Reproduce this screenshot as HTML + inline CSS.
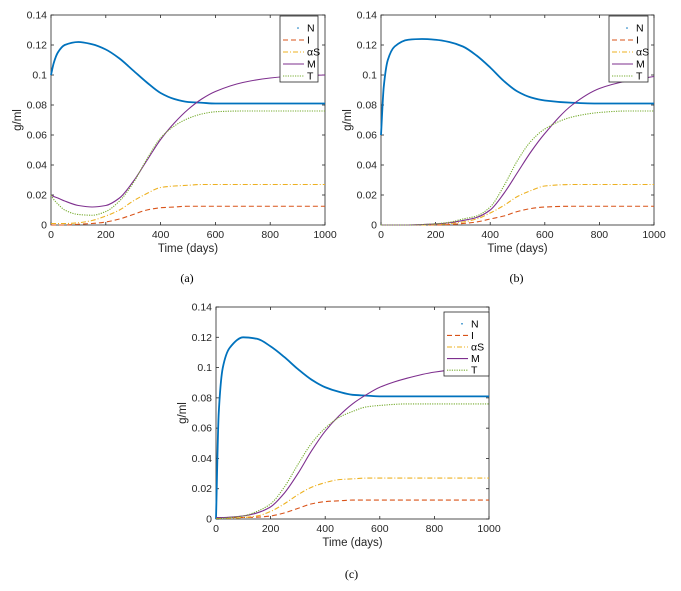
<!DOCTYPE html>
<html><head><meta charset="utf-8"><style>
body{margin:0;background:#fff;width:681px;height:586px;overflow:hidden}
svg{font-family:"Liberation Sans",sans-serif}
</style></head><body>
<svg id="fig" width="681" height="586"></svg>
<script>
const times=[0,10,25,50,100,150,200,250,300,350,400,450,500,550,600,700,800,900,1000];
const yTicks=[0,0.02,0.04,0.06,0.08,0.1,0.12,0.14];
const yTickLabels=["0","0.02","0.04","0.06","0.08","0.1","0.12","0.14"];
const xTicks=[0,200,400,600,800,1000];
const seriesNames=["N","I","\u03B1S","M","T"];
// panel (a)
const aN=[0.100,0.108,0.115,0.120,0.122,0.1205,0.117,0.111,0.103,0.095,0.088,0.084,0.082,0.0815,0.081,0.081,0.081,0.081,0.081];
const aI=[0,0,0,0,0.0005,0.001,0.002,0.004,0.007,0.010,0.0115,0.012,0.0125,0.0125,0.0125,0.0125,0.0125,0.0125,0.0125];
const aS=[0.001,0.001,0.001,0.001,0.0015,0.003,0.006,0.010,0.016,0.021,0.025,0.026,0.0265,0.027,0.027,0.027,0.027,0.027,0.027];
const aM=[0.020,0.019,0.018,0.016,0.013,0.012,0.013,0.018,0.029,0.043,0.057,0.068,0.077,0.084,0.089,0.095,0.098,0.0995,0.100];
const aT=[0.020,0.017,0.014,0.010,0.007,0.0065,0.009,0.016,0.028,0.044,0.058,0.066,0.071,0.074,0.0755,0.076,0.076,0.076,0.076];
// panel (b)
const bN=[0.060,0.092,0.110,0.119,0.1235,0.124,0.1235,0.122,0.119,0.113,0.105,0.096,0.089,0.085,0.083,0.0815,0.081,0.081,0.081];
const bI=[0,0,0,0,0,0,0,0.0003,0.001,0.002,0.004,0.006,0.009,0.011,0.012,0.0125,0.0125,0.0125,0.0125];
const bS=[0,0,0,0,0,0,0.0003,0.001,0.002,0.004,0.008,0.013,0.019,0.023,0.026,0.027,0.027,0.027,0.027];
const bM=[0,0,0,0,0,0.0003,0.0007,0.0015,0.003,0.005,0.010,0.021,0.035,0.049,0.061,0.080,0.091,0.096,0.099];
const bT=[0,0,0,0,0,0.0003,0.0008,0.0018,0.004,0.006,0.012,0.026,0.043,0.056,0.064,0.072,0.075,0.076,0.076];
// panel (c)
const cN=[0.000,0.070,0.100,0.113,0.120,0.119,0.114,0.107,0.099,0.092,0.087,0.084,0.082,0.0815,0.081,0.081,0.081,0.081,0.081];
const cI=[0.001,0.001,0.001,0.001,0.001,0.0012,0.002,0.004,0.007,0.010,0.0115,0.012,0.0125,0.0125,0.0125,0.0125,0.0125,0.0125,0.0125];
const cS=[0.0005,0.0005,0.0005,0.0005,0.001,0.002,0.005,0.010,0.016,0.021,0.024,0.026,0.0265,0.027,0.027,0.027,0.027,0.027,0.027];
const cM=[0.001,0.001,0.001,0.0012,0.002,0.004,0.008,0.017,0.030,0.045,0.058,0.068,0.076,0.082,0.087,0.093,0.097,0.099,0.100];
const cT=[0.0005,0.0005,0.0005,0.001,0.002,0.005,0.010,0.021,0.036,0.050,0.060,0.067,0.071,0.074,0.075,0.076,0.076,0.076,0.076];

const colors=["#0072BD","#D95319","#EDB120","#7E2F8E","#77AC30"];
const dashes=["1,1.2","5,3","5,2,1,2","","1.2,1.2"];
const NS="http://www.w3.org/2000/svg";
const svg=document.getElementById('fig');
function mk(tag,attrs,parent){const e=document.createElementNS(NS,tag);for(const k in attrs)e.setAttribute(k,attrs[k]);(parent||svg).appendChild(e);return e;}
// monotone cubic (Fritsch-Carlson)
function smooth(pts){
  const n=pts.length,dx=[],m=[],t=[];
  for(let i=0;i<n-1;i++){dx[i]=pts[i+1][0]-pts[i][0];m[i]=(pts[i+1][1]-pts[i][1])/dx[i];}
  t[0]=m[0];t[n-1]=m[n-2];
  for(let i=1;i<n-1;i++){ if(m[i-1]*m[i]<=0) t[i]=0; else {const w1=2*dx[i]+dx[i-1],w2=dx[i]+2*dx[i-1];t[i]=(w1+w2)/(w1/m[i-1]+w2/m[i]);} }
  let d=`M${pts[0][0].toFixed(2)},${pts[0][1].toFixed(2)}`;
  for(let i=0;i<n-1;i++){const h=dx[i]/3;
    d+=`C${(pts[i][0]+h).toFixed(2)},${(pts[i][1]+t[i]*h).toFixed(2)} ${(pts[i+1][0]-h).toFixed(2)},${(pts[i+1][1]-t[i+1]*h).toFixed(2)} ${pts[i+1][0].toFixed(2)},${pts[i+1][1].toFixed(2)}`;}
  return d;}

function panel(id,x0,x1,y0,y1,series,leg,label,labelY){
  const g=mk('g',{});
  
  
  const xs=v=>x0+(x1-x0)*v/1000, ys=v=>y0-(y0-y1)*v/0.14;
  mk('rect',{x:x0,y:y1,width:x1-x0,height:y0-y1,fill:'#fff',stroke:'#262626','stroke-width':0.8},g);
  yTicks.forEach((t,i)=>{const y=ys(t);
    mk('line',{x1:x0,x2:x0+3,y1:y,y2:y,stroke:'#262626','stroke-width':0.8},g);
    mk('line',{x1:x1,x2:x1-3,y1:y,y2:y,stroke:'#262626','stroke-width':0.8},g);
    const tx=mk('text',{x:x0-4,y:y+3.5,'text-anchor':'end','font-size':10.5,fill:'#262626'},g);tx.textContent=yTickLabels[i];
    
    });
  xTicks.forEach(t=>{const x=xs(t);
    mk('line',{x1:x,x2:x,y1:y0,y2:y0-3,stroke:'#262626','stroke-width':0.8},g);
    mk('line',{x1:x,x2:x,y1:y1,y2:y1+3,stroke:'#262626','stroke-width':0.8},g);
    const tx=mk('text',{x:x,y:y0+13,'text-anchor':'middle','font-size':10.5,fill:'#262626'},g);tx.textContent=t;
    
    });
  const xt=mk('text',{x:(x0+x1)/2,y:y0+27,'text-anchor':'middle','font-size':11.5,fill:'#262626'},g);xt.textContent='Time (days)';
  
  
  const yt=mk('text',{x:0,y:0,'text-anchor':'middle','font-size':11.5,fill:'#262626',transform:`translate(${x0-30},${(y0+y1)/2}) rotate(-90)`},g);yt.textContent='g/ml';
  
  
  series.forEach((s,k)=>{
    const p=mk('path',{d:smooth(s.map((v,i)=>[xs(times[i]),ys(v)])),fill:'none',stroke:colors[k],'stroke-width':k==0?1.8:1.1,'stroke-dasharray':k==0?'':dashes[k]},g);
    
    
  });
  const lg=mk('g',{},g);
  
  
  mk('rect',{x:leg[0],y:leg[1],width:leg[2]-leg[0],height:leg[3]-leg[1],fill:'#fff',stroke:'#262626','stroke-width':0.8},lg);
  const step=(leg[3]-leg[1]-6)/5;
  seriesNames.forEach((n,k)=>{const y=leg[1]+6+step*(k+0.5);
    if(k==0) mk('circle',{cx:leg[0]+18,cy:y,r:0.8,fill:colors[0]},lg);
    else mk('line',{x1:leg[0]+3,x2:leg[0]+24,y1:y,y2:y,stroke:colors[k],'stroke-width':1.1,'stroke-dasharray':dashes[k]},lg);
    const t=mk('text',{x:leg[0]+27,y:y+3.5,'font-size':10.5,fill:'#000'},lg);t.textContent=n;
    
    });
  const pl=mk('text',{x:(x0+x1)/2-1,y:labelY,'text-anchor':'middle','font-size':12,'font-family':'Liberation Serif, serif',fill:'#000'},g);pl.textContent=label;
  
  
}
panel('a',51,325,225,15,[aN,aI,aS,aM,aT],[280,16,318,82],'(a)',282);
panel('b',381,654,225,15,[bN,bI,bS,bM,bT],[609,16,648,82],'(b)',282);
panel('c',216,489,519,307,[cN,cI,cS,cM,cT],[444,312,489,376],'(c)',578);
</script>
</body></html>
